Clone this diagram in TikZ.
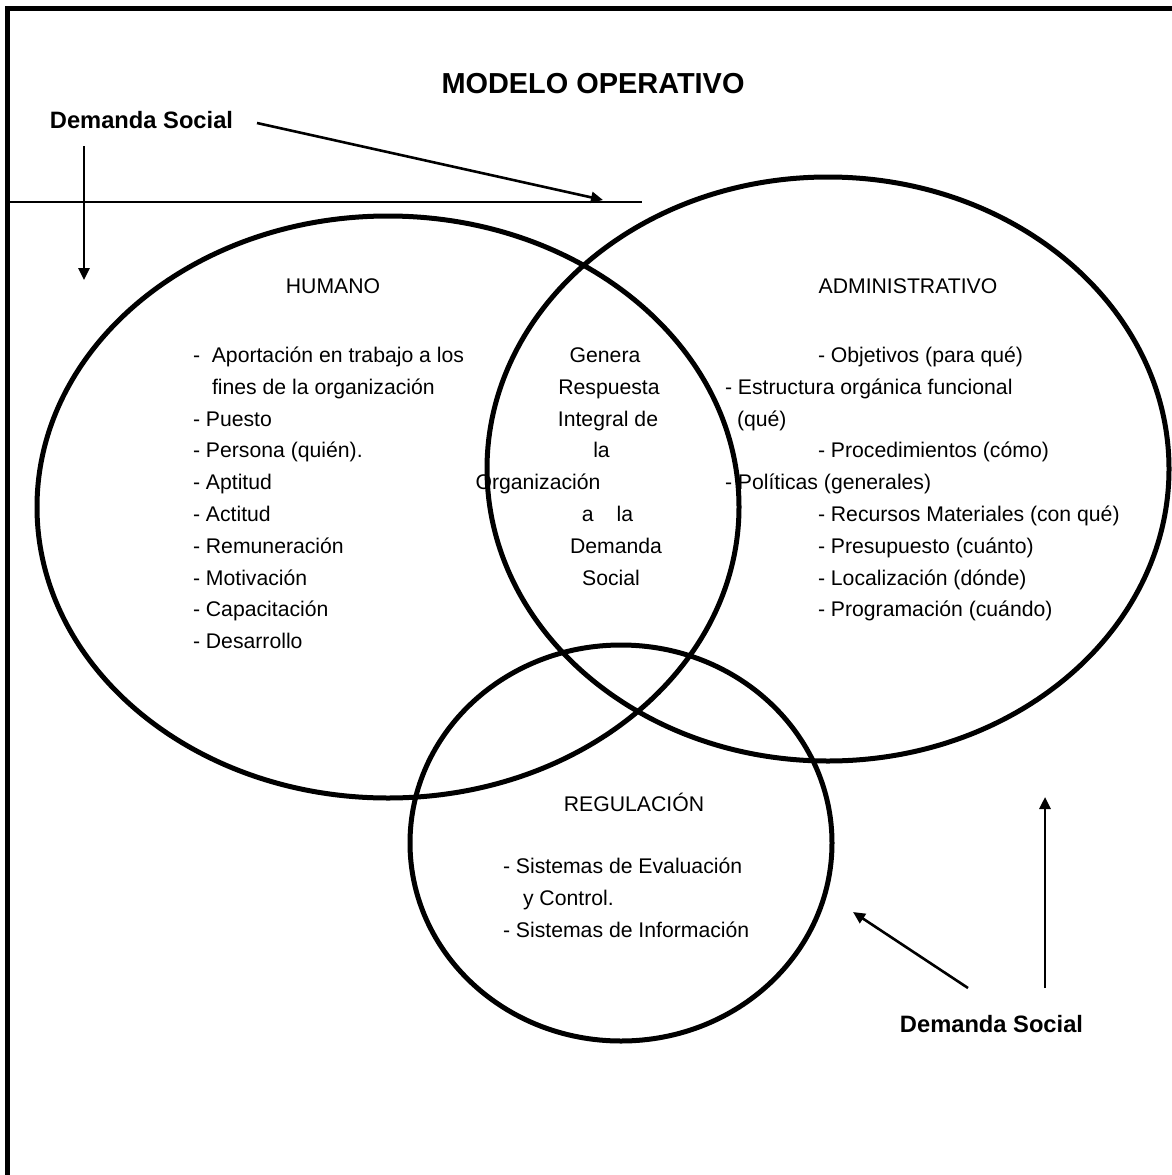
\documentclass[tikz,border=0pt]{standalone}
\usepackage{fontspec}
\setmainfont{Liberation Sans}
\usetikzlibrary{arrows.meta,shapes.geometric}
\begin{document}
\begin{tikzpicture}[x=1pt,y=-1pt,
  every node/.style={inner sep=0pt,outer sep=0pt},
  txt/.style={font=\fontsize{21.2}{25}\selectfont, anchor=base west},
  ctxt/.style={font=\fontsize{21.2}{25}\selectfont, anchor=base},
  dslabel/.style={font=\fontsize{23.7}{28}\selectfont\bfseries},
  titlelabel/.style={font=\fontsize{28.9}{34}\selectfont\bfseries},
  circ/.style={draw, ellipse, line width=5pt},
  arr/.style={line width=2.6pt, -{Triangle[length=12pt,width=11pt]}},
]
\useasboundingbox (0,0) rectangle (1172,1175);

% frame
\draw[line width=5pt, line join=miter] (7.5,1175) -- (7.5,8) -- (1172,8);
\draw[line width=2.4pt] (10,202) -- (642,202);

% titles and labels
\node[titlelabel] (title) at (593,84) {MODELO OPERATIVO};
\node[dslabel] (ds1) at (141.5,120) {Demanda Social};
\node[dslabel] (ds2) at (991.5,1024) {Demanda Social};

% HUMANO
\node[ctxt] (hhead) at (333,293) {HUMANO};
\node[txt] (h1) at (193,362.5) {-\ \ Aportación en trabajo a los};
\node[txt] (h2) at (212,394.3) {fines de la organización};
\node[txt] (h3) at (193,426.1) {- Puesto};
\node[txt] (h4) at (193,457.9) {- Persona (quién).};
\node[txt] (h5) at (193,489.7) {- Aptitud};
\node[txt] (h6) at (193,521.5) {- Actitud};
\node[txt] (h7) at (193,553.3) {- Remuneración};
\node[txt] (h8) at (193,585.1) {- Motivación};
\node[txt] (h9) at (193,616.9) {- Capacitación};
\node[txt] (h10) at (193,648.7) {- Desarrollo};

% middle
\node[ctxt] (m1) at (605,362.5) {Genera};
\node[ctxt] (m2) at (609,394.3) {Respuesta};
\node[ctxt] (m3) at (608,426.1) {Integral de};
\node[ctxt] (m4) at (601.5,457.9) {la};
\node[ctxt] (m5) at (538,489.7) {Organización};
\node[ctxt] (m6) at (607.5,521.5) {a\hspace{23pt}la};
\node[ctxt] (m7) at (616,553.3) {Demanda};
\node[ctxt] (m8) at (611,585.1) {Social};

% ADMINISTRATIVO
\node[ctxt] (ahead) at (908,293) {ADMINISTRATIVO};
\node[txt] (a1) at (818,362.5) {- Objetivos (para qué)};
\node[txt] (a2) at (725,394.3) {- Estructura orgánica funcional};
\node[txt] (a3) at (737,426.1) {(qué)};
\node[txt] (a4) at (818,457.9) {- Procedimientos (cómo)};
\node[txt] (a5) at (725,489.7) {- Políticas (generales)};
\node[txt] (a6) at (818,521.5) {- Recursos Materiales (con qué)};
\node[txt] (a7) at (818,553.3) {- Presupuesto (cuánto)};
\node[txt] (a8) at (818,585.1) {- Localización (dónde)};
\node[txt] (a9) at (818,616.9) {- Programación (cuándo)};

% REGULACION
\node[ctxt] (rhead) at (634,811) {REGULACIÓN};
\node[txt] (r1) at (503,873) {- Sistemas de Evaluación};
\node[txt] (r2) at (523,905) {y Control.};
\node[txt] (r3) at (503,937) {- Sistemas de Información};

% ellipses
\node[circ, minimum width=702pt, minimum height=582pt] (hum) at (388,507) {};
\node[circ, minimum width=682pt, minimum height=584pt] (adm) at (828,469) {};
\node[circ, minimum width=422pt, minimum height=396pt] (reg) at (621,843) {};

% arrows
\coordinate (a1s) at (257,123);
\coordinate (a1e) at (603,200);
\coordinate (a2s) at (84,146);
\coordinate (a2e) at (84,280);
\coordinate (a3s) at (968,988);
\coordinate (a3e) at (853,912);
\coordinate (a4s) at (1045,988);
\coordinate (a4e) at (1045,797);
\draw[arr] (a1s) -- (a1e);
\draw[arr] (a2s) -- (a2e);
\draw[arr] (a3s) -- (a3e);
\draw[arr] (a4s) -- (a4e);
\end{tikzpicture}
\end{document}
